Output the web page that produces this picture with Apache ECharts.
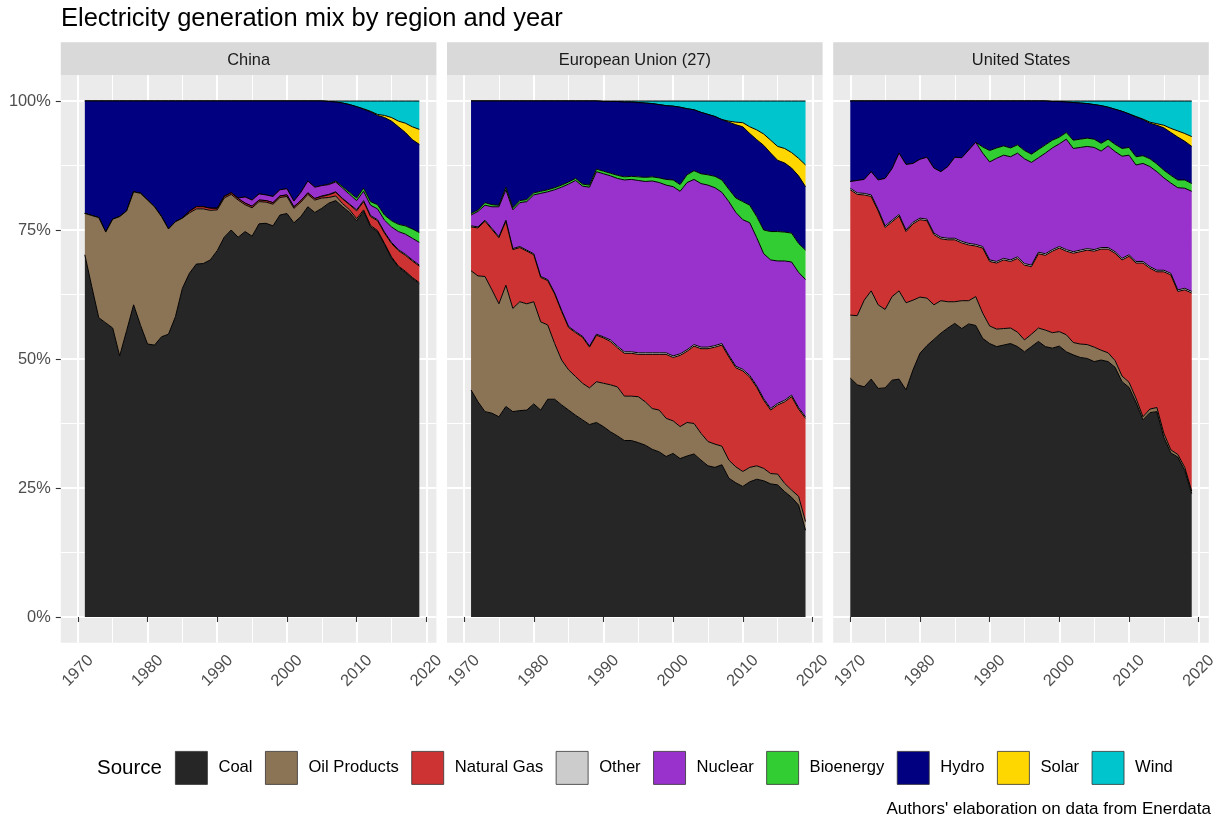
<!DOCTYPE html>
<html>
<head>
<meta charset="utf-8">
<title>Electricity generation mix by region and year</title>
<script src="https://cdn.jsdelivr.net/npm/echarts@6.0.0/dist/echarts.min.js"></script>
<style>
  html, body { margin: 0; padding: 0; background: #fff; }
  #mixChart { width: 1223px; height: 818px; }
</style>
</head>
<body>
<div id="mixChart"></div>
<script>
// shares of generation (%)
var sources = ['Coal', 'Oil Products', 'Natural Gas', 'Other', 'Nuclear', 'Bioenergy', 'Hydro', 'Solar', 'Wind'];
var regionNames = ['China', 'European Union (27)', 'United States'];
var majorYears = [1970, 1980, 1990, 2000, 2010, 2020];
var minorYears = [1975, 1985, 1995, 2005, 2015];
var yTicks = [0, 25, 50, 75, 100];
var yMinorTicks = [12.5, 37.5, 62.5, 87.5];

// China 1971-2019
var cnStart = 1971;
var cnCoal = [70.2,64.0,58.0,57.0,56.0,50.6,55.5,60.5,56.5,52.9, 52.7,54.3,54.8,58.2,63.7,66.6,68.4,68.5,69.2,71.0, 73.6,75.0,73.6,74.7,73.8,76.2,76.3,75.8,77.9,78.2, 76.4,77.6,79.5,78.4,79.2,80.2,80.7,79.5,78.4,76.8, 78.6,75.6,74.7,72.2,69.6,67.8,66.8,65.6,64.6];
var cnOil = [8.0,13.8,19.4,17.6,21.1,27.0,23.2,21.9,25.6,27.9, 26.8,23.3,20.4,18.4,13.6,11.7,10.7,10.6,9.6,7.9, 7.6,6.9,7.2,5.2,5.5,4.3,4.1,4.2,3.4,3.3, 2.8,2.8,2.4,2.4,2.0,1.1,0.9,0.6,0.5,0.4, 0.3,0.3,0.2,0.2,0.2,0.2,0.2,0.2,0.2];
var cnGas = [0,0,0,0,0,0,0,0,0,0, 0,0,0,0,0,0.3,0.4,0.4,0.4,0.3, 0.3,0.3,0.3,0.3,0.3,0.3,0.3,0.3,0.3,0.3, 0.3,0.3,0.3,0.3,0.3,0.5,0.7,0.9,1.0,1.5, 1.6,1.7,1.9,2.0,2.6,3.0,3.1,3.2,3.2];
var cnOther = [0,0,0,0,0,0,0,0,0,0, 0,0,0,0,0,0,0,0,0,0, 0,0,0,0,0,0,0,0,0,0, 0,0,0,0,0.1,0.1,0.1,0.1,0.1,0.2, 0.2,0.2,0.2,0.2,0.2,0.2,0.2,0.2,0.2];
var cnNuclear = [0,0,0,0,0,0,0,0,0,0, 0,0,0,0,0,0,0,0,0,0, 0,0,0.1,1.2,1.2,1.2,1.1,1.2,1.2,1.2, 1.1,1.6,2.3,2.2,2.0,1.9,1.9,2.0,1.9,1.8, 1.8,2.0,2.1,2.3,3.0,3.5,3.9,4.2,4.4];
var cnBio = [0,0,0,0,0,0,0,0,0,0, 0,0,0,0,0,0,0,0,0,0, 0,0,0,0,0,0,0,0,0,0, 0,0,0,0,0,0.1,0.2,0.3,0.4,0.5, 0.6,0.7,0.8,1.0,1.2,1.4,1.6,1.8,1.9];
var cnHydro = [21.8,22.2,22.6,25.4,22.9,22.4,21.3,17.6,17.9,19.2, 20.5,22.4,24.8,23.4,22.7,21.4,20.5,20.5,20.8,20.8, 18.5,17.8,18.8,18.6,19.2,18.0,18.2,18.5,17.2,17.0, 19.4,17.7,15.5,16.7,16.4,16.0,15.3,16.2,17.0,17.7, 15.3,17.4,17.3,18.9,19.3,18.9,18.1,17.3,17.1];
var cnSolar = [0,0,0,0,0,0,0,0,0,0, 0,0,0,0,0,0,0,0,0,0, 0,0,0,0,0,0,0,0,0,0, 0,0,0,0,0,0,0,0,0,0, 0.1,0.1,0.2,0.4,0.7,1.1,1.8,2.5,2.9];
var cnWind = [0,0,0,0,0,0,0,0,0,0, 0,0,0,0,0,0,0,0,0,0, 0,0,0,0,0,0,0,0,0,0, 0,0,0,0,0,0.1,0.2,0.4,0.7,1.1, 1.5,2.0,2.6,2.8,3.2,3.9,4.3,5.0,5.5];

// European Union (27) 1971-2019
var euStart = 1971;
var euCoal = [44.0,41.7,39.8,39.5,38.8,40.8,39.8,40.0,40.1,41.3, 40.1,42.2,42.2,41.1,40.1,39.1,38.2,37.3,37.7,36.9, 35.9,35.1,34.2,34.2,33.8,33.3,32.5,32.0,31.1,31.7, 30.7,31.2,31.6,30.4,29.3,29.0,29.5,26.9,26.0,25.3, 26.2,26.7,26.4,25.8,25.6,24.3,23.2,21.7,16.8];
var euOil = [23.1,24.4,26.2,23.9,21.9,23.5,20.0,21.1,20.6,19.8, 17.1,14.4,10.8,8.7,7.8,7.5,7.1,7.1,7.9,8.4, 9.1,9.5,8.6,8.6,8.9,8.4,7.9,8.1,7.4,6.3, 6.2,6.5,5.9,5.2,4.7,4.5,3.6,3.5,3.1,2.9, 2.8,2.6,2.4,2.0,2.1,1.6,1.4,1.7,1.7];
var euGas = [8.5,9.3,10.7,11.7,12.8,12.4,11.4,10.5,10.2,9.1, 8.6,8.6,9.6,9.4,8.2,8.5,8.9,7.9,9.0,8.8, 8.4,7.6,8.3,8.3,8.2,9.2,10.5,10.8,12.4,12.3, 13.8,13.8,15.0,16.4,18.0,18.8,19.6,20.0,19.2,19.5, 17.5,15.2,13.2,12.3,13.4,15.8,18.1,16.9,20.0];
var euOther = [0.2,0.2,0.2,0.2,0.2,0.2,0.2,0.2,0.2,0.2, 0.2,0.2,0.2,0.2,0.2,0.2,0.2,0.2,0.2,0.2, 0.3,0.3,0.3,0.3,0.3,0.3,0.3,0.3,0.3,0.3, 0.3,0.3,0.3,0.3,0.3,0.3,0.3,0.3,0.3,0.3, 0.3,0.3,0.3,0.3,0.3,0.3,0.3,0.3,0.3];
var euNuclear = [2.1,3.0,2.9,4.2,5.8,5.9,7.5,8.5,9.4,11.4, 16.1,17.0,20.0,23.9,27.6,29.3,29.1,30.8,31.5,31.6, 31.8,32.5,33.3,33.4,33.4,33.2,33.3,33.0,32.5,32.8, 31.5,32.4,32.0,31.7,31.4,30.6,29.3,29.8,29.8,29.0, 29.6,28.7,28.1,28.8,27.6,27.0,25.8,26.2,26.6];
var euBio = [0.3,0.3,0.5,0.4,0.3,0.5,0.4,0.4,0.4,0.4, 0.4,0.4,0.4,0.4,0.4,0.4,0.4,0.4,0.5,0.5, 0.5,0.6,0.6,0.6,0.7,0.8,0.8,0.9,1.1,1.3, 1.3,1.5,1.7,1.9,2.0,2.2,2.4,2.4,2.8,3.5, 3.4,4.1,4.6,5.5,5.7,5.6,5.6,5.6,5.7];
var euHydro = [21.8,21.1,19.7,20.1,20.2,16.7,20.7,19.3,19.1,17.8, 17.5,17.2,16.8,16.3,15.7,15.0,16.1,16.3,13.2,13.5, 13.9,14.3,14.5,14.4,14.4,14.4,14.2,14.2,14.3,14.3, 15.0,12.8,11.8,11.9,11.7,11.6,11.7,13.0,14.2,14.5, 13.9,14.9,16.4,15.2,13.8,13.4,12.6,13.1,12.3];
var euSolar = [0,0,0,0,0,0,0,0,0,0, 0,0,0,0,0,0,0,0,0,0, 0,0,0,0,0,0,0,0,0,0, 0,0,0,0,0,0,0,0.2,0.5,0.8, 1.3,1.9,2.2,2.5,2.7,2.8,3.0,3.4,4.2];
var euWind = [0,0,0,0,0,0,0,0,0,0, 0,0,0,0,0,0,0,0,0,0.1, 0.1,0.1,0.2,0.2,0.3,0.4,0.5,0.7,0.9,1.0, 1.2,1.5,1.7,2.2,2.6,3.0,3.6,3.9,4.1,4.2, 5.0,5.6,6.4,7.6,8.8,9.2,10.0,11.1,12.4];

// United States 1970-2019
var usStart = 1970;
var usCoal = [46.3,45.0,44.6,46.1,44.3,44.4,45.9,46.1,44.0,47.9, 51.1,52.6,53.8,55.0,56.0,56.9,55.9,56.8,56.5,54.0, 53.0,52.4,52.7,53.0,52.4,51.4,52.4,53.4,52.4,52.1, 52.5,51.4,50.8,50.3,50.1,49.5,49.8,49.5,48.4,45.6, 44.5,41.6,38.2,39.6,39.8,34.8,31.8,31.0,28.4,23.9];
var usOil = [12.2,13.4,16.8,17.1,16.2,15.2,16.2,17.1,16.9,13.5, 10.9,9.2,6.7,6.3,5.1,4.2,5.4,4.5,5.6,4.9, 3.4,3.4,3.2,3.0,2.8,2.3,2.4,2.6,3.2,3.0, 2.8,3.3,2.4,2.6,2.7,2.8,1.9,1.7,1.3,1.1, 1.0,0.8,0.6,0.7,0.8,0.8,0.6,0.5,0.6,0.5];
var usGas = [24.3,23.5,20.4,18.3,18.2,15.9,14.5,14.5,13.8,14.8, 15.0,15.0,13.6,12.0,12.0,12.0,11.2,10.8,9.8,12.6, 12.5,12.8,13.3,12.9,14.3,14.5,13.1,14.4,14.5,15.8, 16.2,16.2,17.3,17.9,18.3,18.6,19.6,20.1,20.8,22.5, 24.4,26.2,29.8,27.3,26.3,31.3,33.9,31.6,34.4,38.4];
var usOther = [0.3,0.3,0.3,0.3,0.3,0.3,0.3,0.3,0.3,0.3, 0.3,0.3,0.3,0.3,0.3,0.3,0.3,0.3,0.3,0.3, 0.3,0.3,0.3,0.3,0.3,0.3,0.3,0.3,0.3,0.3, 0.3,0.3,0.3,0.3,0.3,0.3,0.3,0.3,0.3,0.3, 0.3,0.3,0.3,0.3,0.3,0.3,0.3,0.3,0.3,0.3];
var usNuclear = [1.3,2.4,2.7,4.5,5.7,9.2,10.0,11.9,12.7,11.4, 11.4,12.0,12.6,12.7,13.9,15.7,16.2,18.1,19.8,18.1, 19.0,20.0,20.0,20.0,20.1,20.3,19.9,18.3,19.5,19.7, 19.9,21.4,20.0,19.9,19.8,19.8,18.7,19.7,19.4,19.8, 19.3,18.7,19.0,19.4,19.1,17.9,17.5,19.8,19.4,19.4];
var usBio = [0,0,0,0,0,0,0,0,0,0, 0,0,0,0,0,0,0,0,0,1.2, 2.2,2.0,1.8,1.7,1.6,1.6,1.6,1.6,1.6,1.5, 1.3,1.3,1.6,1.6,1.6,1.6,1.5,1.3,1.4,1.5, 1.5,1.6,1.5,1.5,1.5,1.5,1.5,1.5,1.6,1.5];
var usHydro = [15.6,15.4,15.2,13.7,15.3,15.0,13.1,10.1,12.3,12.1, 11.3,10.9,13.0,13.7,12.7,10.9,11.0,9.5,8.0,8.9, 9.6,9.1,8.7,9.1,8.5,9.6,10.3,9.4,8.5,7.5, 6.9,5.9,7.3,7.0,6.7,6.7,7.3,6.2,6.8,7.2, 6.5,7.7,7.0,6.9,7.5,8.2,8.3,8.3,7.5,7.2];
var usSolar = [0,0,0,0,0,0,0,0,0,0, 0,0,0,0,0,0,0,0,0,0, 0,0,0,0,0,0,0,0,0,0, 0,0,0,0,0,0,0,0,0,0, 0,0.1,0.1,0.2,0.3,0.5,0.8,1.2,1.5,1.9];
var usWind = [0,0,0,0,0,0,0,0,0,0, 0,0,0,0,0,0,0,0,0,0, 0,0,0,0,0,0,0,0,0,0.1, 0.1,0.2,0.3,0.4,0.5,0.7,0.9,1.2,1.6,2.0, 2.5,3.0,3.5,4.1,4.4,4.7,5.3,5.8,6.3,6.9];

var sourceColors = ['#262626', '#8B7355', '#CD3333', '#CCCCCC', '#9932CC', '#32CD32', '#000080', '#FFD700', '#00C5CD'];
var FONT = '"Liberation Sans", Arial, Helvetica, sans-serif';

var regions = [
  { start: cnStart, values: [cnCoal, cnOil, cnGas, cnOther, cnNuclear, cnBio, cnHydro, cnSolar, cnWind] },
  { start: euStart, values: [euCoal, euOil, euGas, euOther, euNuclear, euBio, euHydro, euSolar, euWind] },
  { start: usStart, values: [usCoal, usOil, usGas, usOther, usNuclear, usBio, usHydro, usSolar, usWind] }
];

// panel geometry (px)
var panelLeft = [60.8, 447, 833.2];
var panelW = 375.6;
var panelTop = 75.2;
var panelH = 567.6;
var xMin = 1967.55, xMax = 2021.45;

var chartDom = document.getElementById('mixChart');
var myChart = echarts.init(chartDom, null, { renderer: 'canvas' });

var grids = [], xAxes = [], yAxes = [], seriesList = [], graphics = [];

regionNames.forEach(function (name, r) {
  grids.push({
    left: panelLeft[r], top: panelTop, width: panelW, height: panelH,
    show: true, backgroundColor: '#EBEBEB', borderWidth: 0
  });
  // major x axis (ticks, labels, grid lines)
  xAxes.push({
    gridIndex: r, type: 'value', min: xMin, max: xMax, position: 'bottom',
    axisLine: { show: false },
    axisTick: { show: true, length: 5, customValues: majorYears, lineStyle: { color: '#333', width: 1.1 } },
    axisLabel: {
      customValues: majorYears, rotate: 45, align: 'center', verticalAlign: 'middle', margin: 28,
      color: '#4D4D4D', fontSize: 16.4, fontFamily: FONT,
      formatter: function (v) { return String(Math.round(v)); }
    },
    splitLine: { show: true, lineStyle: { color: '#FFFFFF', width: 2 } }
  });
  // minor x grid lines
  xAxes.push({
    gridIndex: r, type: 'value', min: xMin, max: xMax, position: 'bottom',
    axisLine: { show: false },
    axisTick: { show: false, customValues: minorYears },
    axisLabel: { show: false },
    splitLine: { show: true, lineStyle: { color: '#FFFFFF', width: 1 } }
  });
  yAxes.push({
    gridIndex: r, type: 'value', min: -5, max: 105, position: 'left',
    axisLine: { show: false },
    axisTick: { show: r === 0, length: 5, customValues: yTicks, lineStyle: { color: '#333', width: 1.1 } },
    axisLabel: {
      show: r === 0, customValues: yTicks, formatter: '{value}%', margin: 10,
      color: '#4D4D4D', fontSize: 16.4, fontFamily: FONT
    },
    splitLine: { show: true, lineStyle: { color: '#FFFFFF', width: 2 } }
  });
  yAxes.push({
    gridIndex: r, type: 'value', min: -5, max: 105, position: 'left',
    axisLine: { show: false },
    axisTick: { show: false, customValues: yMinorTicks },
    axisLabel: { show: false },
    splitLine: { show: true, lineStyle: { color: '#FFFFFF', width: 1 } }
  });

  var reg = regions[r];
  sources.forEach(function (src, s) {
    var vals = reg.values[s];
    seriesList.push({
      name: src,
      type: 'line',
      xAxisIndex: 2 * r,
      yAxisIndex: 2 * r,
      stack: 'region' + r,
      // share first so the stack is built on the share, year on x
      encode: { x: 1, y: 0 },
      symbol: 'none',
      showSymbol: false,
      silent: true,
      z: 20 - s,
      color: sourceColors[s],
      lineStyle: { color: '#000000', width: 1 },
      areaStyle: { color: sourceColors[s], opacity: 1 },
      emphasis: { disabled: true },
      data: vals.map(function (v, k) { return [v, reg.start + k]; })
    });
  });

  // facet strip
  graphics.push({
    type: 'rect', silent: true,
    shape: { x: panelLeft[r], y: 42.3, width: panelW, height: 32.9 },
    style: { fill: '#D9D9D9' }
  });
  graphics.push({
    type: 'text', silent: true, x: panelLeft[r] + panelW / 2, y: 60,
    style: { text: name, fill: '#1A1A1A', fontSize: 16.4, fontFamily: FONT, align: 'center', verticalAlign: 'middle' }
  });
});

graphics.push({
  type: 'text', silent: true, x: 61, y: 19,
  style: { text: 'Electricity generation mix by region and year', fill: '#000', fontSize: 25.5, fontFamily: FONT, align: 'left', verticalAlign: 'middle' }
});
graphics.push({
  type: 'text', silent: true, x: 97, y: 768,
  style: { text: 'Source', fill: '#000', fontSize: 20.5, fontFamily: FONT, align: 'left', verticalAlign: 'middle' }
});
graphics.push({
  type: 'text', silent: true, x: 1211, y: 809,
  style: { text: "Authors' elaboration on data from Enerdata", fill: '#000', fontSize: 17, fontFamily: FONT, align: 'right', verticalAlign: 'middle' }
});

var option = {
  animation: false,
  backgroundColor: '#FFFFFF',
  grid: grids,
  xAxis: xAxes,
  yAxis: yAxes,
  legend: {
    data: sources.map(function (src, s) {
      return { name: src, itemStyle: { color: sourceColors[s], borderColor: '#333', borderWidth: 0.8 } };
    }),
    left: 175, top: 751, padding: 0,
    orient: 'horizontal',
    icon: 'rect',
    itemWidth: 32, itemHeight: 33, itemGap: 12.5,
    selectedMode: false,
    textStyle: { color: '#000', fontSize: 16.6, fontFamily: FONT, padding: [0, 0, 0, 6] }
  },
  graphic: graphics,
  series: seriesList
};
myChart.setOption(option);
</script>
</body>
</html>
